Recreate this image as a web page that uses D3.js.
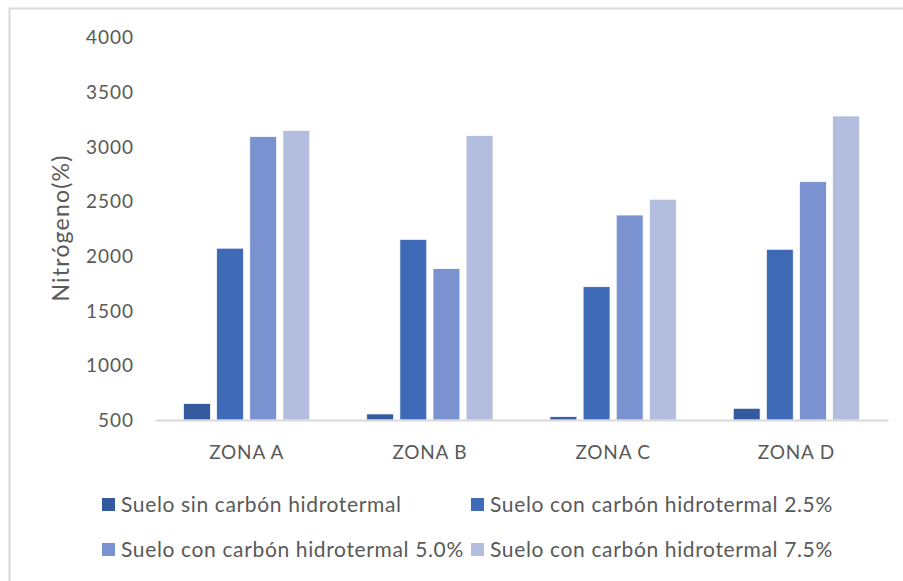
<!DOCTYPE html>
<html><head><meta charset="utf-8">
<script src="https://cdn.jsdelivr.net/npm/d3@7"></script>
<style>
html,body{margin:0;padding:0;background:#fff;}
svg{display:block;font-family:Lato,"Open Sans",sans-serif;}
</style></head>
<body><svg id="chart" width="903" height="581"></svg>
<script>
const categories = ["ZONA A","ZONA B","ZONA C","ZONA D"];
const seriesNames = ["Suelo sin carbón hidrotermal","Suelo con carbón hidrotermal 2.5%","Suelo con carbón hidrotermal 5.0%","Suelo con carbón hidrotermal 7.5%"];
const sinCarbon = [650, 555, 530, 607];
const carbon25 = [2070, 2150, 1718, 2060];
const carbon50 = [3090, 1883, 2373, 2678];
const carbon75 = [3145, 3100, 2517, 3278];
const yTicks = [500,1000,1500,2000,2500,3000,3500,4000];
const colors = ["#325A9C","#3F6AB7","#7A93D0","#B3BEDF"];
const yTitle = "Nitrógeno(%)";

const series = [sinCarbon, carbon25, carbon50, carbon75];
const svg = d3.select("#chart");
const textColor = "#595959";
const FONT = "Lato,'Open Sans',sans-serif";

// chart border
svg.append("path").attr("d","M9.5,581 V8.5 H903").attr("fill","none").attr("stroke","#D9D9D9").attr("stroke-width",2);

const x0 = d3.scaleBand().domain(categories).range([155,888]).paddingInner(0).paddingOuter(0);
const y = d3.scaleLinear().domain([500,4000]).range([420,37]);
const x1 = d3.scaleBand().domain(d3.range(4)).range([0, x0.bandwidth()]).paddingInner(0.19).paddingOuter(0.86);

// bars
const g = svg.append("g");
categories.forEach((c,ci)=>{
  series.forEach((s,si)=>{
    g.append("rect")
      .attr("x", x0(c)+x1(si))
      .attr("y", y(s[ci]))
      .attr("width", x1.bandwidth())
      .attr("height", y(500)-y(s[ci]))
      .attr("fill", colors[si])
      .attr("stroke","#fff").attr("stroke-width",0.7);
  });
});

// y axis labels
const yAxis = d3.axisLeft(y).tickValues(yTicks).tickFormat(d3.format("d")).tickSize(0).tickPadding(0);
const ya = svg.append("g").attr("transform","translate(134,0)").call(yAxis);
ya.select(".domain").remove();
ya.selectAll("text").attr("fill",textColor).style("font-size","19px").style("font-family",FONT)
  .style("letter-spacing","1px").attr("dy","0.35em");

// x axis
const xAxis = d3.axisBottom(x0).tickSize(0).tickPadding(0);
const xa = svg.append("g").attr("transform","translate(0,420)").call(xAxis);
xa.select(".domain").attr("stroke","#D9D9D9").attr("stroke-width",2);
xa.selectAll("text").attr("fill",textColor).style("font-size","19px").style("font-family",FONT)
  .style("letter-spacing","0.8px").attr("y",32).attr("dy","0.35em");

// y title
svg.append("text").attr("transform","translate(61,228) rotate(-90)")
  .attr("text-anchor","middle").attr("dy","0.35em")
  .attr("fill",textColor).style("font-size","23px").style("letter-spacing","1.2px").text(yTitle);

// legend
const legPos = [[102,505],[471,505],[102,550],[471,550]];
seriesNames.forEach((n,i)=>{
  const lg = svg.append("g").attr("transform",`translate(${legPos[i][0]},${legPos[i][1]})`);
  lg.append("rect").attr("x",0).attr("y",-7).attr("width",13).attr("height",13).attr("fill",colors[i]);
  lg.append("text").attr("x",19).attr("dy","0.35em").attr("fill",textColor)
    .style("font-size","21px").style("letter-spacing","0.64px").text(n);
});
</script></body></html>
